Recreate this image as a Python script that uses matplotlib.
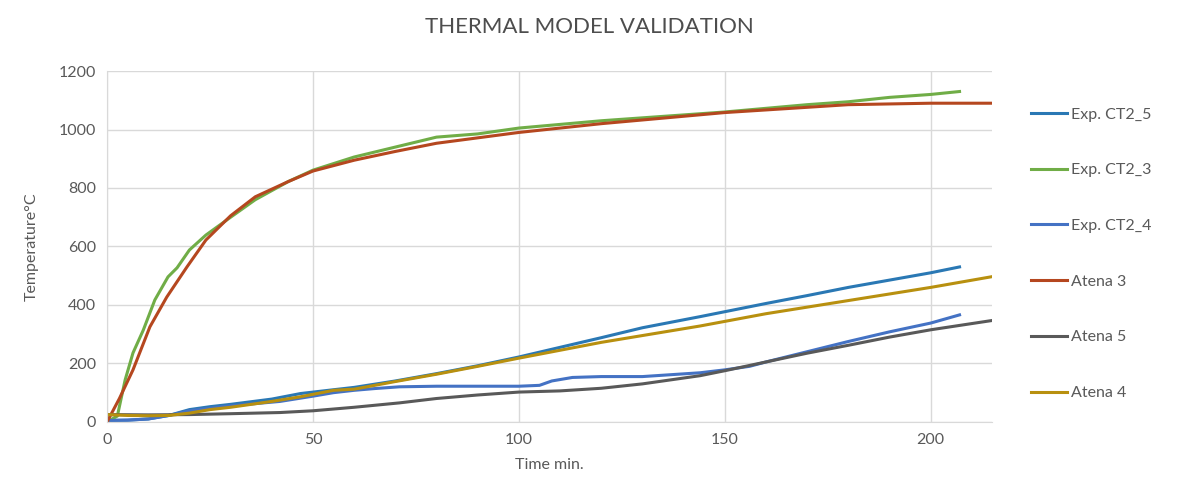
import matplotlib.pyplot as plt

# ----------------------
# Data (time in min, temperature in degC)
# ----------------------
t_ct2_5 = [0, 5, 10, 15, 20, 25, 30, 40, 47, 55, 60, 70, 80, 90, 100, 110, 120, 130, 144, 160, 170, 180, 190, 200, 207]
v_ct2_5 = [5, 6, 10, 22, 42, 52, 60, 78, 97, 110, 118, 140, 165, 192, 222, 255, 288, 322, 360, 405, 432, 460, 485, 510, 530]

t_ct2_3 = [0, 2.5, 4.4, 6.3, 8.8, 11.6, 14.8, 17, 20, 24, 30, 36, 44, 50, 60, 70, 80, 90, 100, 120, 150, 170, 180, 190, 200, 207]
v_ct2_3 = [0, 20, 144, 236, 314, 417, 496, 527, 588, 639, 700, 760, 822, 861, 906, 940, 974, 985, 1005, 1030, 1060, 1085, 1095, 1110, 1120, 1130]

t_ct2_4 = [0, 5, 10, 15, 20, 30, 42, 50, 55, 60, 65, 71, 80, 90, 100, 105, 108, 113, 120, 130, 144, 150, 156, 160, 170, 180, 190, 200, 207]
v_ct2_4 = [5, 6, 10, 22, 38, 55, 70, 88, 100, 108, 114, 120, 122, 122, 122, 125, 140, 152, 155, 155, 168, 178, 190, 205, 240, 275, 308, 338, 366]

t_atena3 = [0, 3, 6.3, 10.4, 14.5, 19.4, 24, 30, 36, 44, 50, 60, 70, 80, 100, 120, 150, 180, 200, 215]
v_atena3 = [0, 80, 178, 325, 427, 530, 622, 705, 770, 822, 858, 895, 925, 953, 990, 1020, 1058, 1085, 1090, 1090]

t_atena5 = [0, 10, 20, 30, 42, 50, 60, 71, 80, 90, 100, 110, 120, 130, 144, 150, 160, 170, 180, 190, 200, 215]
v_atena5 = [25, 24, 25, 28, 32, 38, 50, 65, 80, 92, 102, 106, 115, 130, 158, 175, 205, 235, 262, 290, 315, 347]

t_atena4 = [0, 5, 10, 15, 20, 25, 30, 40, 47, 55, 60, 70, 80, 90, 100, 120, 144, 160, 180, 200, 215]
v_atena4 = [25, 22, 21, 22, 30, 42, 50, 70, 86, 108, 112, 138, 163, 190, 218, 272, 328, 370, 415, 460, 497]

series = [
    ("Exp. CT2_5", t_ct2_5, v_ct2_5, "#2a78b4"),
    ("Exp. CT2_3", t_ct2_3, v_ct2_3, "#70ad47"),
    ("Exp. CT2_4", t_ct2_4, v_ct2_4, "#4472c4"),
    ("Atena 3", t_atena3, v_atena3, "#b5471f"),
    ("Atena 5", t_atena5, v_atena5, "#595959"),
    ("Atena 4", t_atena4, v_atena4, "#b8900f"),
]

plt.rcParams["font.family"] = ["Lato", "DejaVu Sans"]

fig = plt.figure(figsize=(11.79, 4.90), dpi=100)
ax = fig.add_axes([0.0908, 0.139, 0.751, 0.716])

for name, t, v, c in series:
    ax.plot(t, v, color=c, lw=2.2, label=name)

ax.set_xlim(0, 215)
ax.set_ylim(0, 1200)
ax.set_xticks([0, 50, 100, 150, 200])
ax.set_yticks(range(0, 1201, 200))
ax.grid(True, color="#d9d9d9", lw=1.0)
ax.set_axisbelow(True)
for s in ["top", "right"]:
    ax.spines[s].set_visible(False)
for s in ["left", "bottom"]:
    ax.spines[s].set_color("#d9d9d9")
ax.tick_params(length=0, labelsize=11.5, colors="#595959", pad=8)

ax.set_xlabel("Time min.", fontsize=11.5, color="#595959", labelpad=8)
ax.set_ylabel("Temperature°C", fontsize=11.5, color="#595959", labelpad=14)
fig.suptitle("THERMAL MODEL VALIDATION", fontsize=16, color="#4d4d4d", y=0.965)

fig.legend(loc="upper left", bbox_to_anchor=(0.862, 0.81), frameon=False,
           fontsize=11.5, labelspacing=2.6, handlelength=2.3, handletextpad=0.2,
           labelcolor="#595959")

plt.savefig("out.png", dpi=100)
